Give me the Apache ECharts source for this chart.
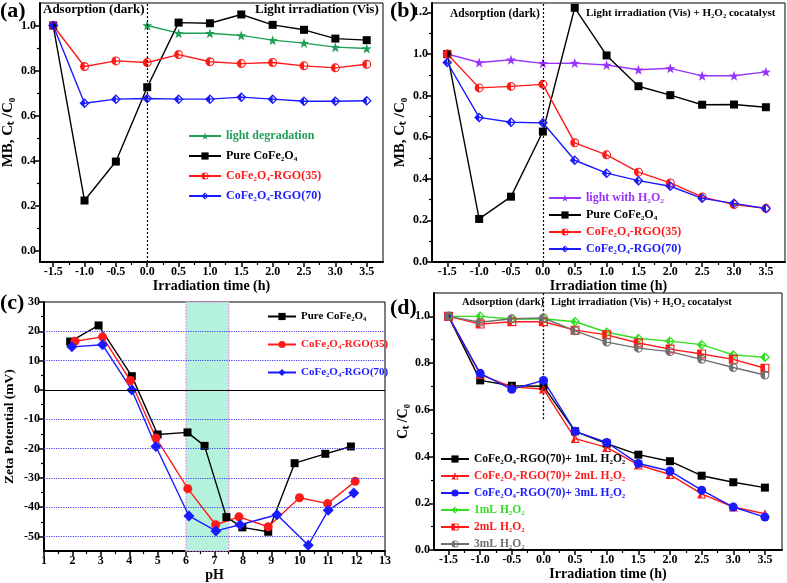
<!DOCTYPE html>
<html>
<head>
<meta charset="UTF-8">
<title>CoFe2O4-RGO</title>
<script src="https://cdn.jsdelivr.net/npm/echarts@6/dist/echarts.min.js"></script>
<style>
  html,body{margin:0;padding:0;background:#fff;}
  #main{width:787px;height:583px;}
</style>
</head>
<body>
<div id="main"></div>
<script>
// ---- data ----
var timeX = [-1.5, -1.0, -0.5, 0, 0.5, 1.0, 1.5, 2.0, 2.5, 3.0, 3.5];
var lightX = [0, 0.5, 1.0, 1.5, 2.0, 2.5, 3.0, 3.5];

// (a) adsorption + visible light
var aLight = [1.0, 0.966, 0.966, 0.956, 0.935, 0.922, 0.904, 0.898];
var aPure  = [1.0, 0.223, 0.396, 0.726, 1.013, 1.010, 1.049, 1.003, 0.981, 0.942, 0.935];
var aRgo35 = [1.0, 0.818, 0.843, 0.836, 0.871, 0.839, 0.831, 0.836, 0.821, 0.812, 0.828];
var aRgo70 = [1.0, 0.655, 0.673, 0.676, 0.673, 0.673, 0.682, 0.673, 0.664, 0.664, 0.666];

// (b) light + H2O2
var bLightH2O2 = [1.0, 0.959, 0.972, 0.955, 0.956, 0.947, 0.924, 0.931, 0.895, 0.895, 0.914];
var bPure  = [1.0, 0.207, 0.314, 0.627, 1.222, 0.993, 0.845, 0.802, 0.756, 0.757, 0.744];
var bRgo35 = [1.0, 0.837, 0.844, 0.854, 0.573, 0.515, 0.432, 0.380, 0.313, 0.276, 0.258];
var bRgo70 = [0.959, 0.695, 0.672, 0.669, 0.489, 0.427, 0.391, 0.364, 0.306, 0.282, 0.257];

// (c) zeta potential vs pH
var cPurePH  = [1.92, 2.92, 4.09, 5.0, 6.05, 6.65, 7.42, 7.98, 8.89, 9.82, 10.9, 11.8];
var cPureZ   = [16.5, 22.0, 4.7, -15.2, -14.5, -19.1, -43.4, -46.9, -48.4, -25.0, -21.8, -19.3];
var cRgo35PH = [2.09, 3.06, 4.04, 4.94, 6.06, 7.04, 7.86, 8.89, 9.99, 10.98, 11.95];
var cRgo35Z  = [16.6, 18.1, 3.2, -16.4, -33.7, -46.0, -43.3, -46.7, -36.8, -38.8, -31.2];
var cRgo70PH = [1.98, 3.06, 4.09, 4.94, 6.1, 7.05, 7.9, 9.2, 10.3, 11.0, 11.9];
var cRgo70Z  = [14.7, 15.4, 0.0, -19.3, -43.0, -48.1, -46.0, -42.6, -53.0, -41.1, -35.2];
var cBand = [6, 7.5];
var cGridLines = [20, 10, -10, -20, -30, -40, -50];

// (d) H2O2 dosage
var dRgo1mL = [1.0, 0.726, 0.703, 0.701, 0.508, 0.455, 0.408, 0.380, 0.318, 0.290, 0.267];
var dRgo2mL = [1.0, 0.751, 0.698, 0.689, 0.477, 0.439, 0.364, 0.323, 0.240, 0.184, 0.155];
var dRgo3mL = [1.0, 0.756, 0.688, 0.726, 0.508, 0.460, 0.370, 0.338, 0.256, 0.184, 0.141];
var dH2O2_1 = [1.0, 1.0, 0.989, 0.990, 0.977, 0.932, 0.905, 0.894, 0.879, 0.835, 0.825];
var dH2O2_2 = [1.0, 0.967, 0.977, 0.977, 0.941, 0.921, 0.886, 0.860, 0.839, 0.816, 0.778];
var dH2O2_3 = [1.0, 0.975, 0.990, 0.993, 0.938, 0.890, 0.864, 0.849, 0.816, 0.781, 0.749];
var dDarkLine = [0.56, 1.1];

// tick positions
var timeTicks = [-1.5, -1.0, -0.5, 0, 0.5, 1.0, 1.5, 2.0, 2.5, 3.0, 3.5];
var timeMinor = [-1.25, -0.75, -0.25, 0.25, 0.75, 1.25, 1.75, 2.25, 2.75, 3.25];
var ratioTicksA = [0, 0.2, 0.4, 0.6, 0.8, 1.0];
var ratioMinorA = [0.1, 0.3, 0.5, 0.7, 0.9];
var ratioTicksB = [0, 0.2, 0.4, 0.6, 0.8, 1.0, 1.2];
var ratioMinorB = [0.1, 0.3, 0.5, 0.7, 0.9, 1.1];
var phTicks = [1, 2, 3, 4, 5, 6, 7, 8, 9, 10, 11, 12, 13];
var phMinor = [1.5, 2.5, 3.5, 4.5, 5.5, 6.5, 7.5, 8.5, 9.5, 10.5, 11.5, 12.5];
var zetaTicks = [-50, -40, -30, -20, -10, 0, 10, 20, 30];
var zetaMinor = [-45, -35, -25, -15, -5, 5, 15, 25];

// ---- styling helpers ----
var FONT = '"Liberation Serif", "Times New Roman", serif';
var GREEN = '#1fa055', RED = '#ff1a1a', BLUE = '#1a1aff', PURPLE = '#9933ff';
var LGREEN = '#33dd22', GRAY = '#707070';

var STAR = 'path://M0,-10L2.35,-3.24L9.51,-3.09L3.8,1.24L5.88,8.09L0,4L-5.88,8.09L-3.8,1.24L-9.51,-3.09L-2.35,-3.24Z';
var HALF_CIRCLE = 'path://M0,-10A10,10 0 1,1 0,10A10,10 0 1,1 0,-10Z M0,-7.5A7.5,7.5 0 1,0 0,7.5A7.5,7.5 0 1,0 0,-7.5Z M0,10A10,10 0 0,1 0,-10Z';
var HALF_DIAMOND = 'path://M0,-10L10,0L0,10L-10,0Z M0,-6.5L-6.5,0L0,6.5L6.5,0Z M0,10L-10,0L0,-10Z';
var HALF_SQUARE = 'path://M-10,-10L10,-10L10,10L-10,10Z M-7.5,-7.5L-7.5,7.5L7.5,7.5L7.5,-7.5Z M0,-10L0,10L-10,10L-10,-10Z';
var HALF_TRI = 'path://M0,-10L10,8L-10,8Z M0,-5.5L-6.5,6L6.5,6Z M0,-10L0,8L-10,8Z';

function pairs(xs, ys) {
  return xs.map(function (x, i) { return [x, ys[i]]; });
}

function line(name, gi, data, color, symbol, size, extra) {
  var s = {
    name: name, type: 'line', xAxisIndex: gi * 2, yAxisIndex: gi * 2,
    data: data, symbol: symbol, symbolSize: size, showSymbol: true,
    lineStyle: { color: color, width: 1.4 },
    itemStyle: { color: color, borderWidth: 0 },
    emphasis: { disabled: true }, animation: false, z: 3
  };
  return Object.assign(s, extra || {});
}

function axes(dim, gi, min, max, majors, minors, fmt, nameOpt) {
  var base = {
    gridIndex: gi, type: 'value', min: min, max: max,
    position: dim === 'x' ? 'bottom' : 'left',
    splitLine: { show: false }
  };
  var main = Object.assign({}, base, {
    axisLine: { show: true, onZero: false, lineStyle: { color: '#000', width: 2 } },
    axisTick: { show: true, length: 5, lineStyle: { color: '#000', width: 1.5 }, customValues: majors },
    axisLabel: {
      show: true, customValues: majors, formatter: fmt, color: '#000',
      fontFamily: FONT, fontWeight: 'bold', fontSize: 12, margin: 4
    }
  }, nameOpt || {});
  var minor = Object.assign({}, base, {
    axisLine: { show: false, onZero: false },
    axisTick: { show: true, length: 3, lineStyle: { color: '#000', width: 1.2 }, customValues: minors },
    axisLabel: { show: false }
  });
  return [main, minor];
}

function nameStyle(size) {
  return { fontFamily: FONT, fontWeight: 'bold', fontSize: size, color: '#000' };
}

var f1 = function (v) { return v.toFixed(1); };
var f0 = function (v) { return String(Math.round(v)); };

var xName = function (text, gap) {
  return { name: text, nameLocation: 'middle', nameGap: gap, nameTextStyle: nameStyle(14) };
};
var yName = function (text, gap, size) {
  return { name: text, nameLocation: 'middle', nameGap: gap, nameTextStyle: nameStyle(size) };
};

var grids = [
  { left: 36, top: 3, width: 347, height: 259 },
  { left: 432, top: 3, width: 353, height: 259 },
  { left: 44, top: 302, width: 341, height: 250 },
  { left: 434, top: 293, width: 348, height: 257 }
].map(function (g) {
  return Object.assign(g, { show: true, borderColor: '#000', borderWidth: 1, backgroundColor: 'transparent' });
});

var xAxes = [].concat(
  axes('x', 0, -1.71, 3.76, timeTicks, timeMinor, f1, xName('Irradiation time (h)', 15)),
  axes('x', 1, -1.74, 3.80, timeTicks, timeMinor, f1, xName('Irradiation time (h)', 15)),
  axes('x', 2, 1, 13, phTicks, phMinor, f0, xName('pH', 15)),
  axes('x', 3, -1.73, 3.77, timeTicks, timeMinor, f1, xName('Irradiation time (h)', 15))
);
var yAxes = [].concat(
  axes('y', 0, -0.05, 1.10, ratioTicksA, ratioMinorA, f1, yName('MB, Cₜ /C₀', 24, 15)),
  axes('y', 1, 0, 1.245, ratioTicksB, ratioMinorB, f1, yName('MB, Cₜ /C₀', 24, 15)),
  axes('y', 2, -55, 30, zetaTicks, zetaMinor, f0, yName('Zeta Potential (mV)', 27, 13.5)),
  axes('y', 3, 0, 1.1, ratioTicksA, ratioMinorA, f1, yName('Cₜ /C₀', 24, 14))
);

var dotted = { type: [2, 2], color: '#000', width: 1.2 };

var series = [
  // (a)
  line('light degradation', 0, pairs(lightX, aLight), GREEN, STAR, 10),
  line('Pure CoFe₂O₄', 0, pairs(timeX, aPure), '#000', 'rect', 8, {
    markLine: { silent: true, symbol: 'none', label: { show: false }, lineStyle: dotted, data: [{ xAxis: 0 }] }
  }),
  line('CoFe₂O₄-RGO(35)', 0, pairs(timeX, aRgo35), RED, HALF_CIRCLE, 9),
  line('CoFe₂O₄-RGO(70)', 0, pairs(timeX, aRgo70), BLUE, HALF_DIAMOND, 10),
  // (b)
  line('light with H₂O₂', 1, pairs(timeX, bLightH2O2), PURPLE, STAR, 10),
  line('Pure CoFe₂O₄\u200b', 1, pairs(timeX, bPure), '#000', 'rect', 8, {
    markLine: { silent: true, symbol: 'none', label: { show: false }, lineStyle: dotted, data: [{ xAxis: 0 }] }
  }),
  line('CoFe₂O₄-RGO(35)\u200b', 1, pairs(timeX, bRgo35), RED, HALF_CIRCLE, 9),
  line('CoFe₂O₄-RGO(70)\u200b', 1, pairs(timeX, bRgo70), BLUE, HALF_DIAMOND, 10),
  // (c)
  line('Pure CoFe₂O₄\u200b\u200b', 2, pairs(cPurePH, cPureZ), '#000', 'rect', 8, {
    markArea: {
      silent: true,
      itemStyle: { color: '#b4f2dc', borderColor: '#e58ef0', borderWidth: 1.5, borderType: 'dotted' },
      data: [[{ xAxis: cBand[0] }, { xAxis: cBand[1] }]]
    },
    markLine: {
      silent: true, symbol: 'none', label: { show: false },
      lineStyle: { type: 'dotted', color: '#4040ff', width: 1.2 },
      data: cGridLines.map(function (v) { return { yAxis: v }; })
        .concat([{ yAxis: 0, lineStyle: { type: 'solid', color: '#000', width: 1.2 } }])
    }
  }),
  line('CoFe₂O₄-RGO(35)\u200b\u200b', 2, pairs(cRgo35PH, cRgo35Z), RED, 'circle', 9),
  line('CoFe₂O₄-RGO(70)\u200b\u200b', 2, pairs(cRgo70PH, cRgo70Z), BLUE, 'diamond', 11),
  // (d)
  line('CoFe₂O₄-RGO(70)+ 1mL H₂O₂', 3, pairs(timeX, dRgo1mL), '#000', 'rect', 8),
  line('CoFe₂O₄-RGO(70)+ 2mL H₂O₂', 3, pairs(timeX, dRgo2mL), RED, HALF_TRI, 9),
  line('CoFe₂O₄-RGO(70)+ 3mL H₂O₂', 3, pairs(timeX, dRgo3mL), BLUE, 'circle', 9),
  line('1mL H₂O₂', 3, pairs(timeX, dH2O2_1), LGREEN, HALF_DIAMOND, 10),
  line('2mL H₂O₂', 3, pairs(timeX, dH2O2_2), RED, HALF_SQUARE, 9),
  line('3mL H₂O₂', 3, pairs(timeX, dH2O2_3), GRAY, HALF_CIRCLE, 9),
  // dark / light boundary in (d)
  {
    name: 'boundary', type: 'line', xAxisIndex: 6, yAxisIndex: 6,
    data: [[0, dDarkLine[0]], [0, dDarkLine[1]]], symbol: 'none',
    lineStyle: { color: '#000', width: 1.3, type: [2, 2] },
    emphasis: { disabled: true }, animation: false, z: 2
  }
];

function legend(left, top, gap, iconW, size, items) {
  return {
    left: left, top: top, orient: 'vertical', itemGap: gap,
    itemWidth: iconW, itemHeight: 9, selectedMode: false, padding: 0,
    formatter: '{b|{name}}',
    textStyle: {
      fontFamily: FONT, fontWeight: 'bold', fontSize: size,
      rich: { b: { fontFamily: FONT, fontWeight: 'bold', fontSize: size } }
    },
    data: items.map(function (it) {
      return { name: it[0], textStyle: { color: it[1] } };
    })
  };
}

var legends = [
  legend(188, 130, 8, 32, 12, [
    ['light degradation', GREEN], ['Pure CoFe₂O₄', '#000'],
    ['CoFe₂O₄-RGO(35)', RED], ['CoFe₂O₄-RGO(70)', BLUE]
  ]),
  legend(548, 192, 5, 32, 12, [
    ['light with H₂O₂', PURPLE], ['Pure CoFe₂O₄\u200b', '#000'],
    ['CoFe₂O₄-RGO(35)\u200b', RED], ['CoFe₂O₄-RGO(70)\u200b', BLUE]
  ]),
  legend(267, 311, 17, 28, 11, [
    ['Pure CoFe₂O₄\u200b\u200b', '#000'], ['CoFe₂O₄-RGO(35)\u200b\u200b', RED],
    ['CoFe₂O₄-RGO(70)\u200b\u200b', BLUE]
  ]),
  legend(440, 453, 5, 28, 11.5, [
    ['CoFe₂O₄-RGO(70)+ 1mL H₂O₂', '#000'], ['CoFe₂O₄-RGO(70)+ 2mL H₂O₂', RED],
    ['CoFe₂O₄-RGO(70)+ 3mL H₂O₂', BLUE], ['1mL H₂O₂', LGREEN],
    ['2mL H₂O₂', RED], ['3mL H₂O₂', GRAY]
  ])
];

function txt(text, left, top, size) {
  return {
    type: 'text', left: left, top: top, silent: true, z: 10,
    style: { text: text, fill: '#000', font: 'bold ' + size + 'px ' + FONT }
  };
}

var graphics = [
  txt('(a)', 0, 0, 22), txt('(b)', 390, 0, 22), txt('(c)', 0, 292, 22), txt('(d)', 390, 297, 22),
  txt('Adsorption (dark)', 43, 3, 13), txt('Light irradiation (Vis)', 255, 3, 13),
  txt('Adsorption (dark)', 450, 8, 11.5), txt('Light irradiation (Vis) + H₂O₂ cocatalyst', 586, 8, 11),
  txt('Adsorption (dark)', 462, 297, 10.5), txt('Light irradiation (Vis) + H₂O₂ cocatalyst', 551, 297, 10.5)
];

var chart = echarts.init(document.getElementById('main'), null, { renderer: 'canvas' });
chart.setOption({
  backgroundColor: '#fff',
  animation: false,
  grid: grids,
  xAxis: xAxes,
  yAxis: yAxes,
  legend: legends,
  series: series,
  graphic: graphics
});
</script>
</body>
</html>
